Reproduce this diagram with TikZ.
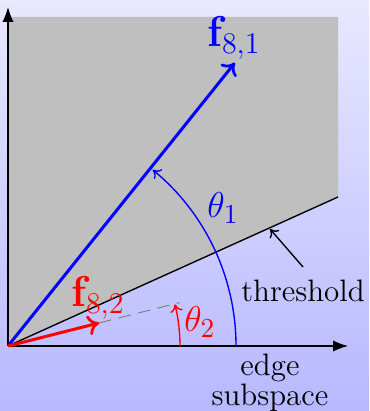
\documentclass[tikz,border=0pt]{standalone}
\usetikzlibrary{arrows.meta,calc}
\begin{document}
\begin{tikzpicture}[x=0.4pt,y=-0.4pt,
  axis/.style={line width=0.5pt,-{Latex[length=6pt,width=4.5pt]}},
  vec/.style={line width=1.2pt,-{To[length=4.5pt,width=8pt,line width=1.1pt]}},
  arc/.style={line width=0.55pt,-{To[length=3pt,width=5pt]}},
  mlab/.style={font=\fontsize{15.5}{18}\selectfont},
  flab/.style={font=\fontsize{17.5}{20}\selectfont},
  tlab/.style={font=\fontsize{12.4}{9.6}\selectfont,align=center,inner sep=0pt}]
\fill[top color=blue!9,bottom color=blue!28] (0,0) rectangle (369,411);
\useasboundingbox (0,0) rectangle (369,411);
\coordinate (O) at (8,346);
\coordinate (Xa) at (348,346);
\coordinate (Ya) at (8,7);
\coordinate (T) at (338,197);
\fill[black!25] (O) -- (8,17) -- (338,17) -- (T) -- cycle;
\draw[line width=0.55pt] (O) -- (T);
\draw[axis] (O) -- (Xa);
\draw[axis] (O) -- (Ya);
% vectors
\coordinate (F1) at ($(O)+(-51.3:363)$);
\coordinate (D) at ($(O)+(-14.2:177)$);
\coordinate (F2) at ($(O)+(-14.2:94)$);
\draw[vec,blue] (O) -- (F1);
\draw[gray,line width=0.4pt,dash pattern=on 5pt off 3pt] (F2) -- (D);
\draw[vec,red] (O) -- (F2);
% arcs
\coordinate (B1) at ($(O)+(228,0)$);
\coordinate (B2) at ($(O)+(172,0)$);
\draw[arc,blue] (B1) arc[start angle=0,end angle=-50.6,radius=228];
\draw[arc,red] (B2) arc[start angle=0,end angle=-14.0,radius=172];
% labels
\node[flab,text=blue] (l1) at (234,38) {$\mathbf{f}_{8,1}$};
\node[flab,text=red] (l2) at (98,298) {$\mathbf{f}_{8,2}$};
\node[mlab,text=blue] (t1) at (223,208) {$\theta_1$};
\node[mlab,text=red] (t2) at (200,322) {$\theta_2$};
\node[tlab] (th) at (303,291) {threshold};
\node[tlab] (es) at (270,382.5) {edge\\subspace};
\coordinate (thtail) at (303,267);
\coordinate (thtip) at (270,229);
\draw[line width=0.55pt,-{To[length=3pt,width=5pt]}] (thtail) -- (thtip);
\end{tikzpicture}
\end{document}
